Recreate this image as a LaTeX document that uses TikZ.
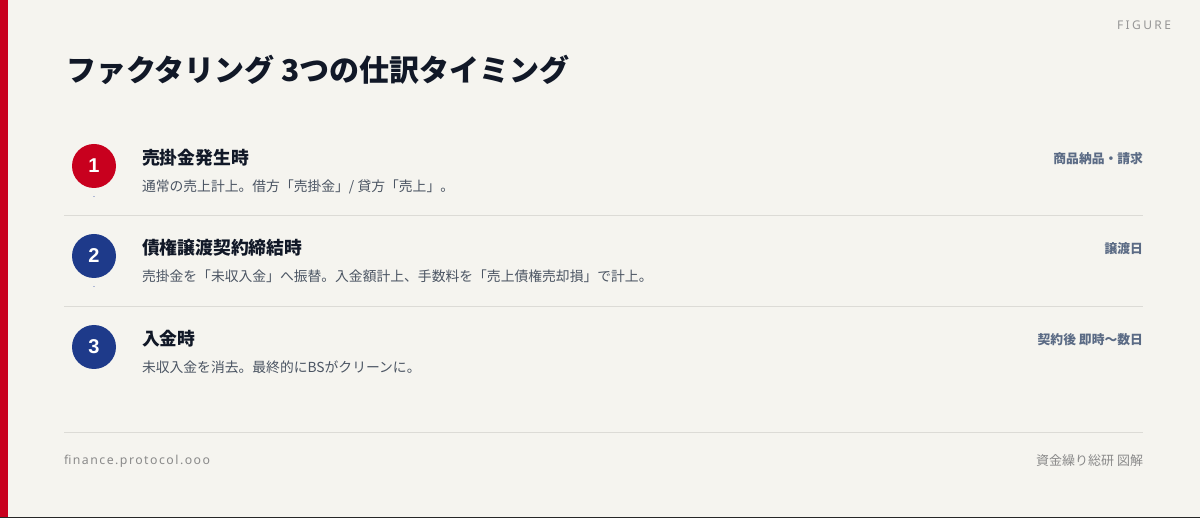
\documentclass[tikz,border=0pt]{standalone}
\usepackage{fontspec}
\setmainfont{Noto Sans CJK JP}
\newfontfamily\jpfont{Noto Sans CJK JP}
\newfontfamily\figfont[LetterSpace=20]{Noto Sans}
\newfontfamily\footfont[LetterSpace=12]{Noto Sans}
\newfontfamily\numfont{Liberation Sans}
\definecolor{bg}{HTML}{F5F4EF}
\definecolor{accent}{HTML}{C8001E}
\definecolor{navy}{HTML}{1E3A8A}
\definecolor{ink}{HTML}{111827}
\definecolor{desc}{HTML}{4B5563}
\definecolor{slate}{HTML}{5B6B85}
\definecolor{rule}{HTML}{DCDBD6}
\definecolor{muted}{HTML}{8A8A8A}
\definecolor{figgray}{HTML}{969696}
\begin{document}
\begin{tikzpicture}[x=1pt,y=-1pt,
  every node/.style={inner sep=0pt,outer sep=0pt},
  title/.style={anchor=base west,text=ink,font=\jpfont\bfseries\fontsize{30}{33}\selectfont},
  head/.style={anchor=base west,text=ink,font=\jpfont\bfseries\fontsize{17.8}{20}\selectfont},
  descr/.style={anchor=base west,text=desc,font=\jpfont\fontsize{13.8}{16}\selectfont},
  tag/.style={anchor=base east,text=slate,font=\jpfont\bfseries\fontsize{12.8}{15}\selectfont},
  numcirc/.style={circle,minimum size=44pt,text=white,font=\numfont\bfseries\fontsize{20}{22}\selectfont},
  sep/.style={draw=rule,line width=1.2pt},
  foot/.style={text=muted,font=\footfont\fontsize{12.3}{14}\selectfont}
]
\useasboundingbox (0,0) rectangle (1200,518);
\fill[bg] (0,0) rectangle (1200,518);
\fill[accent] (0,0) rectangle (8,518);
\fill[black!85] (0,516.5) rectangle (1200,518);

\node[anchor=base east,text=figgray,font=\figfont\fontsize{12}{14}\selectfont] (fig) at (1171,29.5) {FIGURE};
\node[title] (ttl) at (66,81.5) {ファクタリング 3つの仕訳タイミング};

% row 1
\node[numcirc,fill=accent] (c1) at (94,166) {1};
\fill[navy!35] (93,196) rectangle (95,197.5);
\node[head] (h1) at (142,164.5) {売掛金発生時};
\node[descr] (d1) at (142,192) {通常の売上計上。借方「売掛金」/ 貸方「売上」。};
\node[tag] (t1) at (1143,164) {商品納品・請求};
\coordinate (s1a) at (64,215.5);
\coordinate (s1b) at (1143,215.5);
\draw[sep] (s1a) -- (s1b);

% row 2
\node[numcirc,fill=navy] (c2) at (94,256) {2};
\fill[navy!35] (93,286) rectangle (95,287.5);
\node[head] (h2) at (142,254.5) {債権譲渡契約締結時};
\node[descr] (d2) at (142,281.5) {売掛金を「未収入金」へ振替。入金額計上、手数料を「売上債権売却損」で計上。};
\node[tag] (t2) at (1143,254) {譲渡日};
\coordinate (s2a) at (64,306.5);
\coordinate (s2b) at (1143,306.5);
\draw[sep] (s2a) -- (s2b);

% row 3
\node[numcirc,fill=navy] (c3) at (94,347) {3};
\node[head] (h3) at (142,345.5) {入金時};
\node[descr] (d3) at (142,372.5) {未収入金を消去。最終的にBSがクリーンに。};
\node[tag] (t3) at (1143,345) {契約後 即時〜数日};

% footer
\coordinate (fa) at (64,432.5);
\coordinate (fb) at (1143,432.5);
\draw[sep] (fa) -- (fb);
\node[foot,anchor=base west] (fl) at (64,465) {finance.protocol.ooo};
\node[text=muted,anchor=base east,font=\jpfont\fontsize{13}{15}\selectfont] (fr) at (1143,465.5) {資金繰り総研 図解};
\end{tikzpicture}
\end{document}
